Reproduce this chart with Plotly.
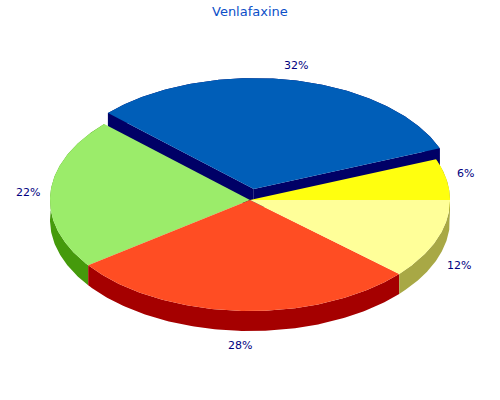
import numpy as np
import plotly.graph_objects as go

title = "Venlafaxine"
shares = [6, 32, 22, 28.4, 11.6]
top_colors = ["#FFFF0F", "#005EB8", "#9BEC6A", "#FF4D23", "#FFFF99"]
side_colors = ["#A6A600", "#000066", "#459A0C", "#A50000", "#A8A845"]

# pixel geometry of the tilted pie, axes run in page pixels
cx, cy = 250, 200
rx, ry = 200, 111
depth = 20
explode = [0, 0.1, 0, 0, 0]
label_pos = [(465, 173), (296, 65), (28, 192), (240, 345), (459, 265)]

angles = np.cumsum([0] + shares) / sum(shares) * 2 * np.pi


def arc(start, end, dx, dy):
    t = np.linspace(start, end, 120)
    return cx + dx + rx * np.cos(t), cy + dy - ry * np.sin(t)


def poly(fig, x, y, color):
    fig.add_trace(go.Scatter(x=x, y=y, mode="lines", fill="toself", fillcolor=color,
                             line=dict(width=0, color=color), hoverinfo="skip", showlegend=False))


def add_side(fig, i, dx, dy):
    ax, ay = arc(angles[i], angles[i + 1], dx, dy)
    x0, y0 = cx + dx, cy + dy
    # outer wall
    poly(fig, np.r_[ax, ax[::-1]], np.r_[ay, ay[::-1] + depth], side_colors[i])
    # cut faces only show on the pulled out slice
    if explode[i] > 0:
        for k in (0, -1):
            poly(fig, [x0, ax[k], ax[k], x0], [y0, ay[k], ay[k] + depth, y0 + depth], side_colors[i])


def add_top(fig, i, dx, dy):
    ax, ay = arc(angles[i], angles[i + 1], dx, dy)
    poly(fig, np.r_[cx + dx, ax], np.r_[cy + dy, ay], top_colors[i])


offsets = []
for i in range(len(shares)):
    mid = (angles[i] + angles[i + 1]) / 2
    offsets.append((explode[i] * rx * np.cos(mid), -explode[i] * ry * np.sin(mid)))

fig = go.Figure()
order = sorted(range(len(shares)), key=lambda i: explode[i], reverse=True)
for i in order:
    add_side(fig, i, *offsets[i])
for i in order[1:]:
    add_top(fig, i, *offsets[i])
add_top(fig, order[0], *offsets[order[0]])

for i, (lx, ly) in enumerate(label_pos):
    fig.add_annotation(x=lx, y=ly, text=f"{round(shares[i])}%", showarrow=False,
                       font=dict(family="DejaVu Sans", size=11, color="#000080"))
fig.add_annotation(x=250, y=11, text=title, showarrow=False,
                   font=dict(family="DejaVu Sans", size=13, color="#0B4FC8"))

fig.update_xaxes(range=[0, 500], visible=False, fixedrange=True)
fig.update_yaxes(range=[400, 0], visible=False, fixedrange=True)
fig.update_layout(width=500, height=400, margin=dict(l=0, r=0, t=0, b=0),
                  paper_bgcolor="white", plot_bgcolor="white", showlegend=False)

# drop the default body margin so the figure sits at the page corner
fig.write_html("out.html", config={"displayModeBar": False},
               post_script="document.body.style.margin='0';")
